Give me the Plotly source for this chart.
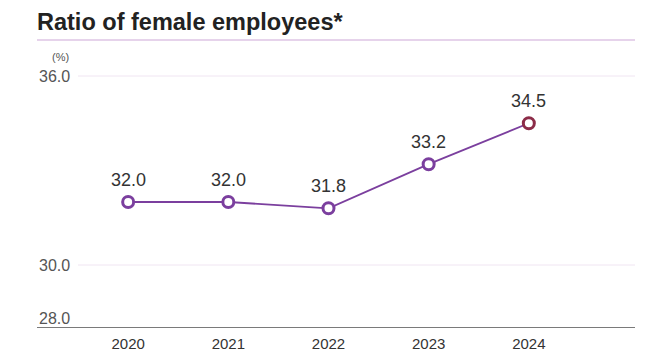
import plotly.graph_objects as go

# Ratio of female employees by fiscal year (%)
years = [2020, 2021, 2022, 2023, 2024]
ratio = [32.0, 32.0, 31.8, 33.2, 34.5]
value_labels = ["32.0", "32.0", "31.8", "33.2", "34.5"]
y_ticks = [28.0, 30.0, 36.0]
y_tick_labels = ["28.0", "30.0", "36.0"]

LINE = "#7B3F9E"
LATEST = "#8C2C48"
GRID = "#F0E5F2"
RULE = "#E6D3EB"
TEXT = "#333333"
MUTED = "#555555"
FONT = "Liberation Sans, Arial, sans-serif"

W, H = 669, 351
ML, MR, MT, MB = 37, 34, 45, 23
plot_w = W - ML - MR
plot_h = H - MT - MB
# pixel offset of the gridlines' left end inside the plot area
grid_x0 = (78 - ML) / plot_w

marker_lines = [LINE] * (len(years) - 1) + [LATEST]

fig = go.Figure()
fig.add_trace(go.Scatter(
    x=years, y=ratio, mode="lines+markers",
    line=dict(color=LINE, width=1.8),
    marker=dict(size=11, color="white", line=dict(color=marker_lines, width=3)),
    hoverinfo="skip", cliponaxis=False,
))

annotations = []
for x, v, lab in zip(years, ratio, value_labels):
    annotations.append(dict(
        x=x, y=v, xref="x", yref="y", text=lab, showarrow=False,
        yanchor="bottom", yshift=10, font=dict(size=18, color=TEXT, family=FONT),
    ))

shapes = []
for t, lab in zip(y_ticks, y_tick_labels):
    if t == y_ticks[0]:
        # lowest value sits just above the baseline
        annotations.append(dict(
            x=0, y=t, xref="paper", yref="y", text=lab, showarrow=False,
            xanchor="left", yanchor="bottom", yshift=-1,
            font=dict(size=16, color=MUTED, family=FONT),
        ))
    else:
        annotations.append(dict(
            x=0, y=t, xref="paper", yref="y", text=lab, showarrow=False,
            xanchor="left", yanchor="middle",
            font=dict(size=16, color=MUTED, family=FONT),
        ))
        shapes.append(dict(
            type="line", xref="paper", yref="y", x0=grid_x0, x1=1, y0=t, y1=t,
            line=dict(color=GRID, width=1), layer="below",
        ))

# baseline
shapes.append(dict(
    type="line", xref="paper", yref="y", x0=0, x1=1, y0=y_ticks[0], y1=y_ticks[0],
    line=dict(color="#7A7A7A", width=2), layer="above",
))
# rule under the title
shapes.append(dict(
    type="line", xref="paper", yref="paper", x0=0, x1=1,
    y0=1 + (MT - 40) / plot_h, y1=1 + (MT - 40) / plot_h,
    line=dict(color=RULE, width=2),
))

annotations.append(dict(
    x=13 / plot_w, y=1 + (MT - 57) / plot_h, xref="paper", yref="paper",
    text="(%)", showarrow=False, xanchor="left", yanchor="middle",
    font=dict(size=11, color=MUTED, family=FONT),
))

px_per_unit = 31.5
y_top = y_ticks[0] + plot_h / px_per_unit
x_left = years[0] - (128 - ML) / 100
x_right = years[-1] + (W - MR - 529) / 100

fig.update_layout(
    width=W, height=H,
    margin=dict(l=ML, r=MR, t=MT, b=MB, autoexpand=False),
    paper_bgcolor="white", plot_bgcolor="white",
    showlegend=False,
    title=dict(
        text="<b>Ratio of female employees*</b>",
        x=0, xref="paper", xanchor="left",
        y=1 - 22 / H, yref="container", yanchor="middle",
        font=dict(size=23.5, color="#222222", family=FONT),
    ),
    xaxis=dict(
        range=[x_left, x_right], tickvals=years, ticktext=[str(y) for y in years],
        showgrid=False, zeroline=False, showline=False, ticks="",
        automargin=False, ticklabelstandoff=5,
        tickfont=dict(size=15, color=TEXT, family=FONT), fixedrange=True,
    ),
    yaxis=dict(
        range=[y_ticks[0], y_top], showgrid=False, zeroline=False, showline=False,
        showticklabels=False, ticks="", automargin=False, fixedrange=True,
    ),
    shapes=shapes,
    annotations=annotations,
)

fig.write_html("out.html")
